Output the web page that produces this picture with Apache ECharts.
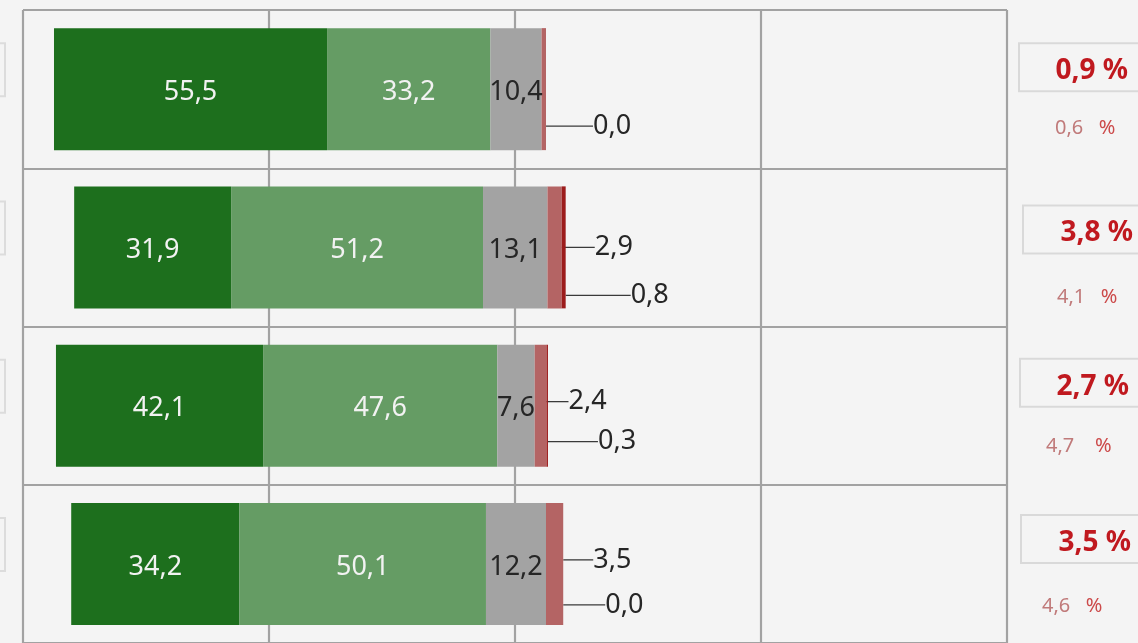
<!DOCTYPE html>
<html>
<head>
<meta charset="utf-8">
<script src="https://cdn.jsdelivr.net/npm/echarts@6/dist/echarts.min.js"></script>
<style>
  html, body { margin: 0; padding: 0; background: #f4f4f4; }
  #chart { width: 1138px; height: 643px; }
</style>
</head>
<body>
<div id="chart"></div>
<script>
// rows, top to bottom
var rows = ['A', 'B', 'C', 'D']
// invisible part in front of each bar
var offsetVals = [6.3, 10.4, 6.7, 9.8]
var darkGreenVals = [55.5, 31.9, 42.1, 34.2]
var lightGreenVals = [33.2, 51.2, 47.6, 50.1]
var greyVals = [10.4, 13.1, 7.6, 12.2]
var pinkVals = [0.9, 2.9, 2.4, 3.5]
var darkRedVals = [0.0, 0.8, 0.3, 0.0]
// texts on the right
var totalShare = ['0,9', '3,8', '2,7', '3,5']
var prevShare = ['0,6', '4,1', '4,7', '4,6']
var xTicks = [0, 50, 100, 150, 200]

// label offsets for the small red parts (dx, dy)
var pinkLabelMove = [null, [33, 0], [22, -4], [30, -4]]
var redLabelMove = [[47, 37], [65, 48], [50, 36], [42, 41]]

var fmt = function (v) { return v.toFixed(1).replace('.', ',') }
var fontFam = '"Noto Sans", "DejaVu Sans", sans-serif'
var gridColor = '#a2a2a2'

var chart = echarts.init(document.getElementById('chart'))

function segment(name, vals, color, labelColor) {
  return {
    name: name,
    type: 'bar',
    stack: 'total',
    barWidth: 122,
    itemStyle: { color: color },
    label: {
      show: true,
      position: 'inside',
      offset: [0, 3],
      color: labelColor,
      fontSize: 27,
      fontFamily: fontFam,
      formatter: function (p) { return fmt(p.value) }
    },
    data: vals
  }
}

function smallSegment(name, vals, color, moves) {
  return {
    name: name,
    type: 'bar',
    stack: 'total',
    barWidth: 122,
    itemStyle: { color: color },
    label: {
      show: true,
      position: 'right',
      distance: 0,
      color: '#262626',
      fontSize: 27,
      fontFamily: fontFam,
      formatter: function (p) { return fmt(p.value) }
    },
    labelLine: {
      show: true,
      lineStyle: { color: '#3a3a3a', width: 1.3 }
    },
    labelLayout: function (p) {
      var m = moves[p.dataIndex]
      if (!m) return {}
      return { dx: m[0], dy: m[1] }
    },
    data: vals.map(function (v, i) {
      return moves[i] ? v : { value: v, label: { show: false } }
    })
  }
}

chart.setOption({
  backgroundColor: '#f4f4f4',
  animation: false,
  grid: {
    left: 23,
    right: 131,
    top: 10,
    bottom: -4
  },
  xAxis: {
    type: 'value',
    min: xTicks[0],
    max: xTicks[xTicks.length - 1],
    interval: 50,
    axisLabel: { show: false },
    axisLine: { show: false },
    axisTick: { show: false },
    splitLine: { show: true, lineStyle: { color: gridColor, width: 2.2 } }
  },
  yAxis: {
    type: 'category',
    inverse: true,
    data: rows,
    axisLabel: { show: false },
    axisTick: { show: false },
    axisLine: { show: false },
    splitLine: { show: true, lineStyle: { color: gridColor, width: 2.2 } }
  },
  series: [
    {
      name: 'offset',
      type: 'bar',
      stack: 'total',
      barWidth: 122,
      silent: true,
      itemStyle: { color: 'rgba(0,0,0,0)' },
      data: offsetVals
    },
    segment('s1', darkGreenVals, '#1d6f1d', '#f2f2f2'),
    segment('s2', lightGreenVals, '#659c64', '#f2f2f2'),
    segment('s3', greyVals, '#a3a3a3', '#262626'),
    smallSegment('s4', pinkVals, '#b46464', pinkLabelMove),
    smallSegment('s5', darkRedVals, '#9c1c1c', redLabelMove)
  ]
})

// boxes on both sides, placed from the row positions
var boxX = [1019, 1023, 1020, 1021]
var boxDy = [-22, -18, -23, -25]
var textRight = [1128, 1133, 1129, 1131]
var subX = [1055, 1057, 1046, 1042]
var subDy = [39, 50, 41, 42]
var subGap = ['   ', '   ', '    ', '   ']
var gfx = []
rows.forEach(function (r, i) {
  var cy = chart.convertToPixel({ yAxisIndex: 0 }, r)
  gfx.push({
    type: 'rect',
    shape: { x: boxX[i], y: cy + boxDy[i] - 24, width: 200, height: 48 },
    style: { fill: 'none', stroke: '#d9d9d9', lineWidth: 2 }
  })
  gfx.push({
    type: 'text',
    style: {
      text: totalShare[i] + ' %',
      x: textRight[i],
      y: cy + boxDy[i] + 4,
      align: 'right',
      verticalAlign: 'middle',
      fill: '#c0191f',
      font: 'bold 28px ' + fontFam
    }
  })
  gfx.push({
    type: 'text',
    style: {
      text: '{v|' + prevShare[i] + '}{p|' + subGap[i] + '%}',
      x: subX[i],
      y: cy + subDy[i],
      verticalAlign: 'middle',
      rich: {
        v: { fill: '#c07a7a', fontSize: 20, fontFamily: fontFam },
        p: { fill: '#cc4a4a', fontSize: 20, fontFamily: fontFam }
      }
    }
  })
  gfx.push({
    type: 'rect',
    shape: { x: -200, y: cy - 46, width: 205, height: 53 },
    style: { fill: 'none', stroke: '#dcdcdc', lineWidth: 2 }
  })
})
chart.setOption({ graphic: gfx })
</script>
</body>
</html>
